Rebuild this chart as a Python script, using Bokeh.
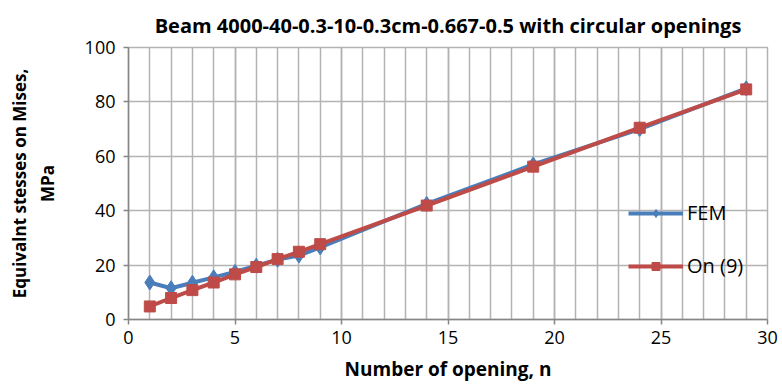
from bokeh.plotting import figure
from bokeh.models import Legend, LegendItem, FixedTicker, Range1d
from bokeh.embed import file_html
from bokeh.resources import INLINE

n_openings = [1, 2, 3, 4, 5, 6, 7, 8, 9, 14, 19, 24, 29]
fem = [13.6, 11.5, 13.5, 15.5, 17.5, 19.8, 22.0, 23.5, 26.5, 42.5, 57.0, 70.0, 85.0]
on9 = [4.8, 7.9, 10.8, 13.6, 16.6, 19.3, 22.2, 24.9, 27.7, 41.9, 56.2, 70.5, 84.6]
x_ticks = [0, 5, 10, 15, 20, 25, 30]
y_ticks = [0, 20, 40, 60, 80, 100]

title_text = "Beam 4000-40-0.3-10-0.3cm-0.667-0.5 with circular openings"
x_label = "Number of opening, n"
y_label = "Equivalnt stesses on Mises,\nMPa"

FONT = "Open Sans"
BLUE = "#4a7ebb"
RED = "#be4b48"
GRID = "#b3b3b3"

p = figure(width=778, height=384, output_backend="svg", toolbar_location=None,
           x_range=Range1d(0, 30), y_range=Range1d(0, 100),
           min_border_left=128, min_border_right=11, min_border_top=47, min_border_bottom=65)

p.title.text = title_text
p.title.align = "center"
p.title.text_font = FONT
p.title.text_font_size = "20px"
p.title.text_font_style = "bold"
p.title.text_color = "black"
p.title.offset = 8
p.title.standoff = 18

p.xaxis.ticker = FixedTicker(ticks=x_ticks, minor_ticks=list(range(0, 31)))
p.yaxis.ticker = FixedTicker(ticks=y_ticks)

p.xgrid.grid_line_color = GRID
p.xgrid.grid_line_width = 1.5
p.xgrid.minor_grid_line_color = GRID
p.xgrid.minor_grid_line_width = 1.5
p.ygrid.grid_line_color = GRID
p.ygrid.grid_line_width = 1.5
p.outline_line_color = GRID
p.outline_line_width = 1.5

for ax in (p.xaxis, p.yaxis):
    ax.major_label_text_font = FONT
    ax.major_label_text_font_size = "18px"
    ax.major_label_text_color = "black"
    ax.axis_label_text_font = FONT
    ax.axis_label_text_font_style = "bold"
    ax.axis_label_text_color = "black"
    ax.axis_line_color = "#868686"
    ax.axis_line_width = 1.5
    ax.major_tick_line_color = "#868686"
    ax.major_tick_line_width = 1.5
    ax.major_tick_in = 0
    ax.major_tick_out = 5
    ax.minor_tick_line_color = None

p.xaxis.axis_label = x_label
p.xaxis.axis_label_text_font_size = "19px"
p.xaxis.axis_label_standoff = 9
p.yaxis.axis_label = y_label
p.yaxis.axis_label_text_font_size = "17px"
p.yaxis.axis_label_standoff = 23

p.xaxis.major_label_standoff = 6
p.yaxis.major_label_standoff = 8

r1 = p.line(n_openings, fem, line_color=BLUE, line_width=4)
m1 = p.scatter(n_openings, fem, marker="diamond", size=15, fill_color=BLUE, line_color=BLUE)
r2 = p.line(n_openings, on9, line_color=RED, line_width=4)
m2 = p.scatter(n_openings, on9, marker="square", size=11, fill_color=RED, line_color=RED)

legend = Legend(items=[LegendItem(label="FEM", renderers=[r1, m1]),
                       LegendItem(label="On (9)", renderers=[r2, m2])],
                location=(500, 40), padding=0, margin=0, spacing=26,
                glyph_width=55, glyph_height=20, label_height=20, label_standoff=4,
                background_fill_alpha=0, border_line_color=None,
                label_text_font=FONT, label_text_font_size="20px",
                label_text_color="black")
p.add_layout(legend)

open("out.html", "w").write(file_html(p, INLINE))
